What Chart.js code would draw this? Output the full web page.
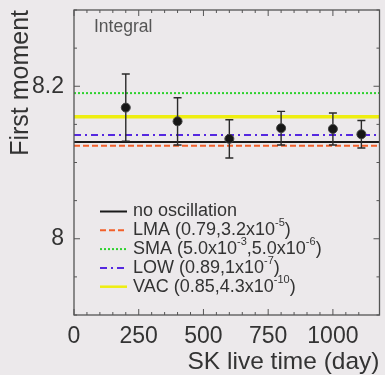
<!DOCTYPE html>
<html>
<head>
<meta charset="utf-8">
<script src="https://cdn.jsdelivr.net/npm/chart.js@4.4.0/dist/chart.umd.min.js"></script>
<style>
  html, body { margin: 0; padding: 0; background: #ece9eb; }
  #wrap { width: 385px; height: 375px; }
</style>
</head>
<body>
<div id="wrap"><canvas id="momentChart" width="385" height="375"></canvas></div>
<script>
// First moment of the recoil energy spectrum vs. live time
const liveDays = [200, 400, 600, 800, 1000, 1110];
const firstMoment = [8.172, 8.154, 8.131, 8.145, 8.144, 8.137];
const momentErr = [0.044, 0.031, 0.025, 0.022, 0.021, 0.018];

// expected value for each oscillation hypothesis
const modelNames = ['no oscillation', 'LMA', 'SMA', 'LOW', 'VAC'];
const modelMoment = [8.127, 8.122, 8.191, 8.136, 8.160];
// legend text pieces: [text, isSuperscript]
const legendText = [
    [['no oscillation', false]],
    [['LMA (0.79,3.2x10', false], ['-5', true], [')', false]],
    [['SMA (5.0x10', false], ['-3', true], [',5.0x10', false], ['-6', true], [')', false]],
    [['LOW (0.89,1x10', false], ['-7', true], [')', false]],
    [['VAC (0.85,4.3x10', false], ['-10', true], [')', false]]
];

const xTickLabels = [0, 250, 500, 750, 1000];
const yTickLabels = [8, 8.2];
const xMin = 0, xMax = 1180;
const yMin = 7.9, yMax = 8.3;

// line styles, same order as modelNames
const lineColors = ['#1a1a1a', '#f2602a', '#2ed12e', '#5528e0', '#eeee10'];
const lineDashes = [[], [6, 3], [2, 2], [7, 4, 2, 4], []];
const lineWidths = [2, 2, 2, 2, 3.5];

const FONT = '"Liberation Sans", Arial, Helvetica, sans-serif';

const lineSets = modelNames.map((name, i) => ({
    type: 'line',
    label: name,
    data: [{ x: xMin, y: modelMoment[i] }, { x: xMax, y: modelMoment[i] }],
    borderColor: lineColors[i],
    borderDash: lineDashes[i],
    borderWidth: lineWidths[i],
    pointRadius: 0,
    fill: false
}));

// error bars, drawn just before the points so they sit above the model lines
const errorBars = {
    id: 'errorBars',
    beforeDatasetDraw(chart, args) {
        if (args.index !== 0) return;
        const { ctx, scales: { x, y } } = chart;
        ctx.save();
        ctx.strokeStyle = '#2a2a2a';
        ctx.lineWidth = 1.4;
        ctx.beginPath();
        liveDays.forEach((d, i) => {
            const px = x.getPixelForValue(d);
            const top = y.getPixelForValue(firstMoment[i] + momentErr[i]);
            const bot = y.getPixelForValue(firstMoment[i] - momentErr[i]);
            ctx.moveTo(px, top); ctx.lineTo(px, bot);
            ctx.moveTo(px - 4, top); ctx.lineTo(px + 4, top);
            ctx.moveTo(px - 4, bot); ctx.lineTo(px + 4, bot);
        });
        ctx.stroke();
        ctx.restore();
    }
};

// box frame with inward ticks on all four sides
const frameTicks = {
    id: 'frameTicks',
    afterDatasetsDraw(chart) {
        const { ctx, chartArea: a, scales: { x, y } } = chart;
        ctx.save();
        ctx.strokeStyle = '#555';
        ctx.lineWidth = 1.3;
        ctx.strokeRect(a.left, a.top, a.right - a.left, a.bottom - a.top);
        ctx.lineWidth = 1;
        ctx.beginPath();
        x.ticks.forEach(t => {
            const px = x.getPixelForValue(t.value);
            const len = t.label !== '' ? 6 : 3;
            ctx.moveTo(px, a.bottom); ctx.lineTo(px, a.bottom - len);
            ctx.moveTo(px, a.top); ctx.lineTo(px, a.top + len);
        });
        y.ticks.forEach(t => {
            const py = y.getPixelForValue(t.value);
            const len = t.label !== '' ? 6 : 3;
            ctx.moveTo(a.left, py); ctx.lineTo(a.left + len, py);
            ctx.moveTo(a.right, py); ctx.lineTo(a.right - len, py);
        });
        ctx.stroke();
        ctx.restore();
    }
};

// "Integral" caption and the legend with superscripted exponents
const legendBox = {
    id: 'legendBox',
    afterDraw(chart) {
        const { ctx, chartArea: a } = chart;
        ctx.save();
        ctx.textBaseline = 'middle';
        ctx.fillStyle = '#555';
        ctx.font = '17.5px ' + FONT;
        ctx.fillText('Integral', a.left + 20, a.top + 17);

        legendText.forEach((parts, i) => {
            const ds = chart.data.datasets[i + 1];
            const yy = a.top + 201.5 + i * 18.8;
            ctx.save();
            ctx.strokeStyle = ds.borderColor;
            ctx.lineWidth = i === 4 ? 2.5 : 2;
            ctx.setLineDash(ds.borderDash);
            ctx.beginPath();
            ctx.moveTo(a.left + 26, yy);
            ctx.lineTo(a.left + 53, yy);
            ctx.stroke();
            ctx.restore();

            let tx = a.left + 59;
            ctx.fillStyle = '#333';
            parts.forEach(([txt, sup]) => {
                ctx.font = (sup ? '11px ' : '18px ') + FONT;
                ctx.fillText(txt, tx, sup ? yy - 7 : yy);
                tx += ctx.measureText(txt).width;
            });
        });
        ctx.restore();
    }
};

new Chart(document.getElementById('momentChart'), {
    data: {
        datasets: [{
            type: 'scatter',
            label: 'data',
            data: liveDays.map((d, i) => ({ x: d, y: firstMoment[i] })),
            pointRadius: 4.5,
            pointBackgroundColor: '#161616',
            pointBorderColor: '#444',
            pointBorderWidth: 1
        }, ...lineSets]
    },
    options: {
        responsive: false,
        animation: false,
        devicePixelRatio: 1,
        layout: { padding: { top: 10, right: 4, left: 0, bottom: 0 } },
        plugins: { legend: { display: false }, tooltip: { enabled: false } },
        scales: {
            x: {
                type: 'linear',
                min: xMin,
                max: xMax,
                grid: { display: false, drawTicks: false },
                border: { display: false },
                afterFit(s) { s.height = 60; s.paddingLeft = 0; s.paddingRight = 0; },
                ticks: {
                    stepSize: 50,
                    autoSkip: false,
                    maxRotation: 0,
                    padding: 8,
                    color: '#333',
                    font: { family: FONT, size: 23 },
                    callback: v => xTickLabels.includes(v) ? String(v) : ''
                },
                title: {
                    display: true,
                    text: 'SK live time (day)',
                    align: 'end',
                    color: '#333',
                    font: { family: FONT, size: 24.5, lineHeight: 1 },
                    padding: { top: 0, bottom: 1 }
                }
            },
            y: {
                type: 'linear',
                min: yMin,
                max: yMax,
                grid: { display: false, drawTicks: false },
                border: { display: false },
                afterFit(s) { s.width = 74; s.paddingTop = 0; s.paddingBottom = 0; },
                ticks: {
                    stepSize: 0.05,
                    autoSkip: false,
                    padding: 10,
                    color: '#333',
                    font: { family: FONT, size: 23 },
                    callback: v => {
                        const l = yTickLabels.find(t => Math.abs(t - v) < 1e-6);
                        return l === undefined ? '' : String(l);
                    }
                },
                title: {
                    display: true,
                    text: 'First moment',
                    align: 'end',
                    color: '#333',
                    font: { family: FONT, size: 25, lineHeight: 1 },
                    padding: { top: 9, bottom: 0 }
                }
            }
        }
    },
    plugins: [errorBars, frameTicks, legendBox]
});
</script>
</body>
</html>
